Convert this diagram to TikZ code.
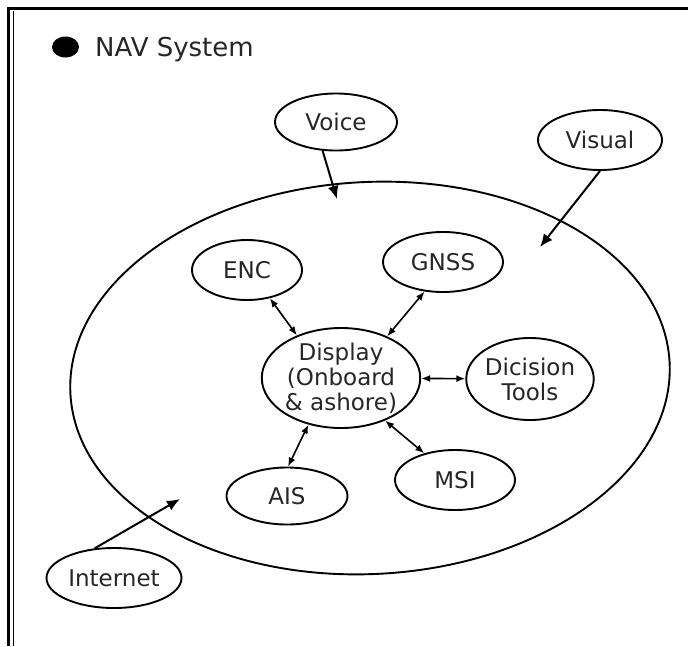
\documentclass[tikz,border=0pt]{standalone}
\usepackage{fontspec}
\setmainfont{DejaVu Sans}
\usetikzlibrary{shapes.geometric,arrows.meta}
\begin{document}
\begin{tikzpicture}[x=1pt,y=-1pt,
  bub/.style={draw,ellipse,line width=1.9pt,inner sep=0pt,font=\fontsize{23}{25}\selectfont,align=center,text=black!85},
  onearrow/.style={line width=2pt,-{Latex[length=13pt,width=11pt]}},
  twoarrow/.style={line width=1.6pt,{Latex[length=9pt,width=7pt]}-{Latex[length=9pt,width=7pt]}}]
\useasboundingbox (0,0) rectangle (688,646);
% frame
\draw[line width=3.5pt] (7,8.7) -- (688,8.7);
\draw[line width=2.5pt] (8.7,7) -- (8.7,646);
\draw[line width=1.3pt] (13.3,10.5) -- (13.3,646);
% title
\node[ellipse,fill=black,minimum width=27pt,minimum height=21pt,inner sep=0pt] (dot) at (65.5,47) {};
\node[anchor=base west,inner sep=0pt,font=\fontsize{26}{30}\selectfont,text=black!85] (title) at (95,56) {NAV System};
% system ellipse
\node[draw,ellipse,line width=1.9pt,minimum width=600pt,minimum height=392pt,rotate=3,inner sep=0pt] (sys) at (370,378) {};
% nodes
\node[bub,minimum width=122pt,minimum height=57pt] (voice) at (336,122) {Voice};
\node[bub,minimum width=124pt,minimum height=60pt] (visual) at (600,140) {Visual};
\node[bub,minimum width=110pt,minimum height=60pt] (enc) at (247,270) {ENC};
\node[bub,minimum width=120pt,minimum height=60pt] (gnss) at (443,262) {GNSS};
\node[bub,minimum width=157pt,minimum height=100pt] (disp) at (341,378) {Display\\(Onboard\\\& ashore)};
\node[bub,minimum width=126pt,minimum height=82pt] (dt) at (530,379) {Dicision\\Tools};
\node[bub,minimum width=121pt,minimum height=57pt] (ais) at (287,496) {AIS};
\node[bub,minimum width=120pt,minimum height=60pt] (msi) at (455,480) {MSI};
\node[bub,minimum width=135pt,minimum height=60pt] (internet) at (114,578) {Internet};
% free ends
\coordinate (vtip) at (337,199);
\coordinate (vistip) at (540,247);
\coordinate (itip) at (180,499);
% connectors
\draw[onearrow] (voice.-115) -- (vtip);
\draw[onearrow] (visual.south) -- (vistip);
\draw[onearrow] (internet.123) -- (itip);
\draw[twoarrow] (enc.-51) -- (disp.136);
\draw[twoarrow] (gnss.238) -- (disp.42);
\draw[twoarrow] (disp) -- (dt);
\draw[twoarrow] (disp.235) -- (ais.88);
\draw[twoarrow] (disp.-44) -- (msi.139);
\end{tikzpicture}
\end{document}
